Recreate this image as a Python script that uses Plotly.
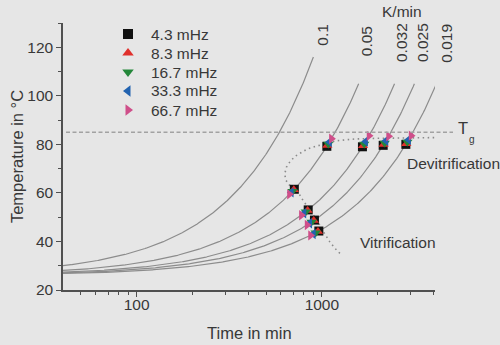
import numpy as np
import plotly.graph_objects as go

# Linear heating ramps T = T0 + rate * t
rates = [0.1, 0.05, 0.032, 0.025, 0.019]          # K/min
rate_labels = ["0.1", "0.05", "0.032", "0.025", "0.019"]
T0 = 26.0                                          # start temperature, °C
T_end = [116, 105, 105, 105, 105]                  # temperature where each ramp stops

# Ramps that carry the measured transitions
point_rates = [0.05, 0.032, 0.025, 0.019]

# Vitrification / devitrification temperatures (°C) per measuring frequency
freq_labels = ["4.3 mHz", "8.3 mHz", "16.7 mHz", "33.3 mHz", "66.7 mHz"]
vit_4_3 = [61.5, 53.0, 48.8, 44.3]
vit_8_3 = [61.3, 52.8, 48.6, 44.1]
vit_16_7 = [60.7, 52.2, 48.0, 43.6]
vit_33_3 = [60.2, 51.6, 47.5, 43.1]
vit_66_7 = [59.4, 50.8, 46.8, 42.5]
devit_4_3 = [79.2, 79.0, 79.6, 80.0]
devit_8_3 = [79.5, 79.4, 79.9, 80.3]
devit_16_7 = [80.2, 80.2, 80.6, 81.0]
devit_33_3 = [81.0, 81.2, 81.5, 81.9]
devit_66_7 = [82.3, 83.5, 83.3, 83.6]

# Guide line through the transitions (time in min, temperature in °C)
guide_t = [1251, 1176, 1105, 1016, 943, 861, 790, 730, 660, 636, 631, 644,
           671, 714, 770, 826, 891, 975, 1070, 1200, 1500, 2000, 2600, 3300, 4200]
guide_T = [35.1, 37.2, 39.8, 44.2, 48.7, 52.8, 57.0, 61.4, 63.5, 65.6, 68.0, 70.6,
           72.7, 75.0, 76.4, 77.9, 78.8, 79.5, 80.5, 81.5, 82.2, 82.5, 82.6, 82.7, 82.8]

T_g = 85.0

series = [
    (freq_labels[0], vit_4_3, devit_4_3, "square", "#111111", 9),
    (freq_labels[1], vit_8_3, devit_8_3, "triangle-up", "#e0302c", 9),
    (freq_labels[2], vit_16_7, devit_16_7, "triangle-down", "#24873a", 9),
    (freq_labels[3], vit_33_3, devit_33_3, "triangle-left", "#2263b0", 9),
    (freq_labels[4], vit_66_7, devit_66_7, "triangle-right", "#cf4f8a", 9),
]

FONT = "Liberation Sans, Arial, sans-serif"
TXT = "#383838"
BG = "#e6e6e6"

# plot area in pixels
L, R, TOP, BOT = 63, 435, 23, 290
W, H = 500, 345


def px(x, y):
    return (x - L) / (R - L), (BOT - y) / (BOT - TOP)


fig = go.Figure()

# heating ramps
for r, te in zip(rates, T_end):
    t = np.geomspace(30, (te - T0) / r, 300)
    fig.add_trace(go.Scatter(x=t, y=T0 + r * t, mode="lines",
                             line=dict(color="#8c8c8c", width=1.2),
                             showlegend=False, hoverinfo="skip"))

# dotted guide
fig.add_trace(go.Scatter(x=guide_t, y=guide_T, mode="lines",
                         line=dict(color="#8a8a8a", width=1.6, dash="1.5px,3.5px"),
                         showlegend=False, hoverinfo="skip"))

# measured transitions
for name, vit, devit, sym, col, size in series:
    temps = list(vit) + list(devit)
    rr = point_rates + point_rates
    times = [(T - T0) / r for T, r in zip(temps, rr)]
    fig.add_trace(go.Scatter(x=times, y=temps, mode="markers", name=name,
                             showlegend=False,
                             marker=dict(symbol=sym, color=col, size=size,
                                         line=dict(width=0))))

# key: symbols on an overlay axis spanning the plot area, labels as text
key_x, key_text_x, key_y0, key_dy = 128, 151, 34, 19
for i, (name, _, _, sym, col, size) in enumerate(series):
    kx, ky = px(key_x, key_y0 + i * key_dy)
    fig.add_trace(go.Scatter(x=[kx], y=[ky], xaxis="x2", yaxis="y2",
                             mode="markers", showlegend=False, hoverinfo="skip",
                             marker=dict(symbol=sym, color=col, size=size + 1,
                                         line=dict(width=0))))

# T_g line
x0, _ = px(66, 0)
x1, _ = px(453, 0)
fig.add_shape(type="line", xref="paper", yref="y", x0=x0, x1=x1, y0=T_g, y1=T_g,
              line=dict(color="#a2a2a2", width=1.5, dash="4px,2.5px"))

ann = []


def add_text(text, x, y, size=15.5, xanchor="center", yanchor="middle", angle=0):
    ax, ay = px(x, y)
    ann.append(dict(text=text, x=ax, y=ay, xref="paper", yref="paper",
                    showarrow=False, xanchor=xanchor, yanchor=yanchor,
                    textangle=angle, font=dict(family=FONT, size=size, color=TXT)))


for i, name in enumerate(freq_labels):
    add_text(name, key_text_x - 2, key_y0 + i * key_dy, xanchor="left")

label_pos = [(321.7, 35), (366.7, 41.5), (402, 43), (423, 43), (446.7, 43)]
for lab, (lx, ly) in zip(rate_labels, label_pos):
    add_text(lab, lx, ly, angle=-90)
add_text("K/min", 401.7, 12)
add_text("T", 456, 128, size=16.5, xanchor="left")
add_text("g", 467, 139, size=10, xanchor="left")
add_text("Devitrification", 405, 163, xanchor="left")
add_text("Vitrification", 358, 242, xanchor="left")
add_text("Time in min", 249, 333, size=16.5)

axis_common = dict(showline=True, linecolor="#505050", linewidth=1.5,
                   ticks="outside", tickcolor="#505050", tickwidth=1.2,
                   ticklen=5, showgrid=False, zeroline=False, mirror=False,
                   automargin=False,
                   tickfont=dict(family=FONT, size=15.5, color=TXT))

fig.update_layout(
    width=W, height=H,
    margin=dict(l=L, r=W - R, t=TOP, b=H - BOT),
    paper_bgcolor=BG, plot_bgcolor=BG,
    annotations=ann,
    showlegend=False,
    xaxis=dict(type="log", range=[np.log10(40), 3.611],
               tickvals=[100, 1000], ticktext=["100", "1000"],
               ticklabelstandoff=-5,
               minor=dict(ticks="outside", ticklen=3, tickcolor="#505050",
                          tickvals=[50, 60, 70, 80, 90, 200, 300, 400, 500, 600,
                                    700, 800, 900, 2000, 3000, 4000]),
               **axis_common),
    yaxis=dict(range=[20, 130], tickvals=[20, 40, 60, 80, 100, 120],
               minor=dict(ticks="outside", ticklen=3, tickcolor="#505050",
                          tickvals=[30, 50, 70, 90, 110, 130]),
               title=dict(text="Temperature in °C", standoff=0,
                          font=dict(family=FONT, size=16.5, color=TXT)),
               **axis_common),
    xaxis2=dict(overlaying="x", range=[0, 1], visible=False, fixedrange=True),
    yaxis2=dict(overlaying="y", range=[0, 1], visible=False, fixedrange=True),
)

fig.write_html("out.html")
